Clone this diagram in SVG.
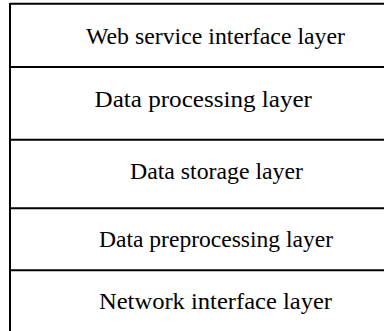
<svg xmlns="http://www.w3.org/2000/svg" width="384" height="331" viewBox="0 0 384 331">
<style>
.ln{stroke:#000;stroke-width:2;fill:none}
.t{font-family:"Liberation Serif","Times New Roman",serif;font-size:23px;fill:#000}
</style>
<rect width="384" height="331" fill="#fff"/>
<g id="connectors">
<line class="ln" x1="10" y1="3.7" x2="384" y2="3.7"/>
<line class="ln" x1="10" y1="3" x2="10" y2="331"/>
<line class="ln" x1="10" y1="67" x2="384" y2="67"/>
<line class="ln" x1="10" y1="139.8" x2="384" y2="139.8"/>
<line class="ln" x1="10" y1="208.2" x2="384" y2="208.2"/>
<line class="ln" x1="10" y1="270.3" x2="384" y2="270.3"/>
</g>
<g id="web"><text class="t" x="86" y="43.5" textLength="259" lengthAdjust="spacingAndGlyphs">Web service interface layer</text></g>
<g id="processing"><text class="t" x="94.5" y="106.5" textLength="217.5" lengthAdjust="spacingAndGlyphs">Data processing layer</text></g>
<g id="storage"><text class="t" x="130" y="179.3" textLength="173" lengthAdjust="spacingAndGlyphs">Data storage layer</text></g>
<g id="preprocessing"><text class="t" x="99" y="247" textLength="234" lengthAdjust="spacingAndGlyphs">Data preprocessing layer</text></g>
<g id="network"><text class="t" x="99" y="309.3" textLength="233" lengthAdjust="spacingAndGlyphs">Network interface layer</text></g>
</svg>
